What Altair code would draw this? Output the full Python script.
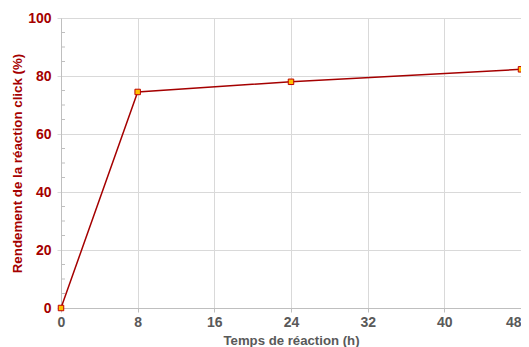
import altair as alt
import pandas as pd

hours = [0, 8, 24, 48]
yields = [0, 74.5, 78, 82.3]
minor_ticks = [v for v in range(5, 100, 5) if v % 20 != 0]

df = pd.DataFrame({"t": hours, "y": yields})
dm = pd.DataFrame({"m": minor_ticks})

RED = "#A50000"
GRAY = "#595959"
FONT = "Liberation Sans"

xs = alt.Scale(domain=[0, 48], nice=False)
ys = alt.Scale(domain=[0, 100], nice=False)

line = alt.Chart(df).mark_line(color=RED, strokeWidth=1.5).encode(
    x=alt.X("t:Q", scale=xs, title="Temps de réaction (h)",
            axis=alt.Axis(values=[0, 8, 16, 24, 32, 40, 48], labelColor=GRAY,
                          titleColor=GRAY, labelFont=FONT, titleFont=FONT,
                          labelFontSize=14, titleFontSize=13.2, labelFontWeight="bold",
                          titleFontWeight="bold", domainColor="#BFBFBF", tickColor="#BFBFBF",
                          tickSize=4, gridColor="#D9D9D9", labelPadding=3, titlePadding=5,
                          labelFlush=False, labelOverlap=False, labelBound=False,
                          labelAlign=alt.condition("datum.value == 48",
                                                   alt.value("right"), alt.value("center")))),
    y=alt.Y("y:Q", scale=ys, title="Rendement de la réaction click (%)",
            axis=alt.Axis(values=[0, 20, 40, 60, 80, 100], labelColor=RED,
                          titleColor=RED, labelFont=FONT, titleFont=FONT,
                          labelFontSize=14, titleFontSize=13.3, labelFontWeight="bold",
                          titleFontWeight="bold", domainColor="#BFBFBF", tickColor="#D9D9D9",
                          tickSize=4, gridColor="#D9D9D9", labelPadding=6, titlePadding=3,
                          labelFlush=False)),
)

pts = alt.Chart(df).mark_square(size=30, fill="#FFC000", stroke="#C00000",
                                strokeWidth=1, opacity=1).encode(
    x=alt.X("t:Q", scale=xs), y=alt.Y("y:Q", scale=ys))

minor = alt.Chart(dm).mark_rule(color="#BFBFBF", strokeWidth=1).encode(
    x=alt.value(0), x2=alt.value(4), y=alt.Y("m:Q", scale=ys))

chart = alt.layer(minor, line, pts).properties(
    width=460, height=290,
    autosize=alt.AutoSizeParams(type="none"),
    padding={"left": 53, "top": 10, "right": 0, "bottom": 39},
).configure_view(stroke="#D9D9D9")

chart.save("out.html", embed_options={"renderer": "svg", "actions": False})
